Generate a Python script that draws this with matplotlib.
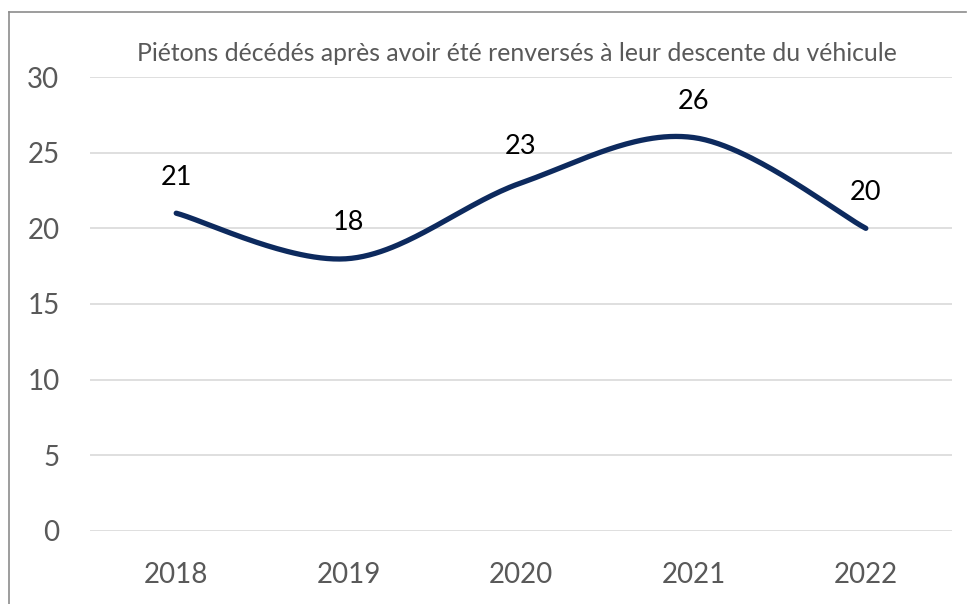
import numpy as np
import matplotlib
matplotlib.use("Agg")
import matplotlib.pyplot as plt
from matplotlib.lines import Line2D

years = ["2018", "2019", "2020", "2021", "2022"]
values = [21, 18, 23, 26, 20]
yticks = [0, 5, 10, 15, 20, 25, 30]
title = "Piétons décédés après avoir été renversés à leur descente du véhicule"

plt.rcParams['font.family'] = ['Lato', 'DejaVu Sans']

fig = plt.figure(figsize=(9.68, 6.04), dpi=100)
ax = fig.add_axes([0.093, 0.1209, 0.8905, 0.7516])

# Excel-like smoothed line (Catmull-Rom converted to cubic Bezier)
x = np.arange(len(values), dtype=float)
y = np.array(values, dtype=float)
px = np.concatenate([[x[0]], x, [x[-1]]])
py = np.concatenate([[y[0]], y, [y[-1]]])
xs, ys = [], []
t = np.linspace(0, 1, 60)
for i in range(len(x) - 1):
    p0 = np.array([px[i], py[i]]); p1 = np.array([px[i+1], py[i+1]])
    p2 = np.array([px[i+2], py[i+2]]); p3 = np.array([px[i+3], py[i+3]])
    c1 = p1 + (p2 - p0) / 6.0
    c2 = p2 - (p3 - p1) / 6.0
    b = ((1-t)**3)[:, None]*p1 + (3*(1-t)**2*t)[:, None]*c1 + (3*(1-t)*t**2)[:, None]*c2 + (t**3)[:, None]*p2
    xs.extend(b[:, 0]); ys.extend(b[:, 1])

ax.plot(xs, ys, color="#0D2A5E", linewidth=3.8, solid_capstyle="round", zorder=3)

for xi, v in zip(x, values):
    ax.annotate(str(v), (xi, v), xytext=(0, 26), textcoords="offset points",
                ha="center", va="center", fontsize=19.5, color="black")

ax.set_xlim(-0.5, len(values) - 0.5)
ax.set_ylim(0, 30)
ax.set_yticks(yticks)
ax.set_yticklabels([str(v) for v in yticks])
ax.set_xticks(x)
ax.set_xticklabels(years)
ax.yaxis.grid(True, color="#D9D9D9", linewidth=1.2)
ax.set_axisbelow(True)
for s in ax.spines.values():
    s.set_visible(False)
ax.tick_params(axis="both", length=0, labelsize=20, colors="#595959")
ax.tick_params(axis="y", pad=22)
ax.tick_params(axis="x", pad=22)

fig.text(0.5336, 0.912, title, ha="center", va="center", fontsize=17.8, color="#595959")

# chart border (left, top)
fig.add_artist(Line2D([0.0098, 0.0098], [0, 0.98], transform=fig.transFigure, color="#8C8C8C", linewidth=1.2))
fig.add_artist(Line2D([0.0098, 0.998], [0.98, 0.98], transform=fig.transFigure, color="#8C8C8C", linewidth=1.2))

fig.savefig("out.png", dpi=100)
